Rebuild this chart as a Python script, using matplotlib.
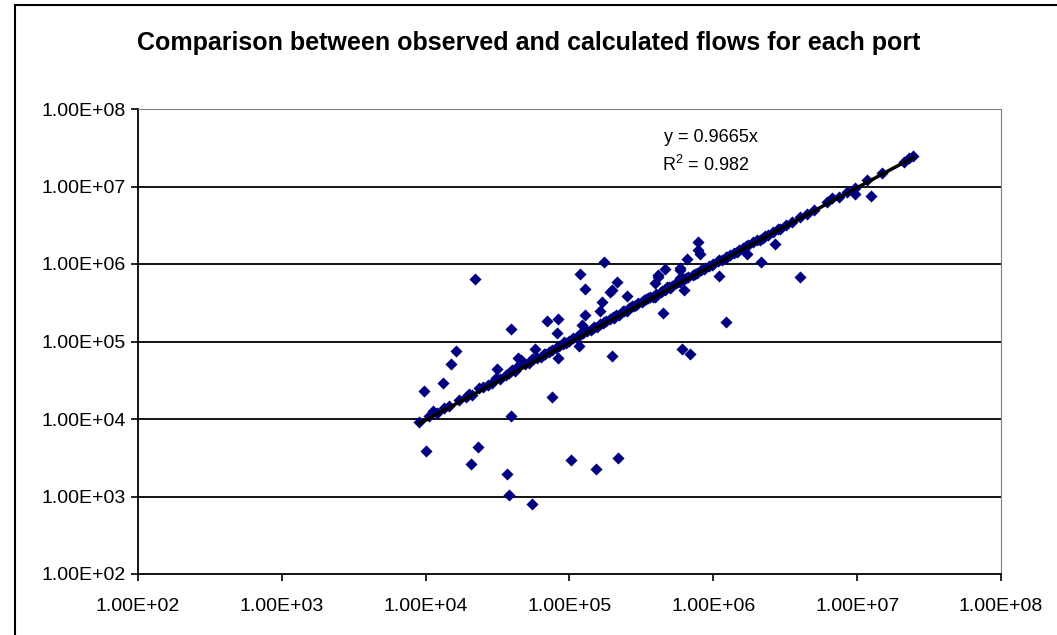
import numpy as np
import matplotlib
matplotlib.use('Agg')
from matplotlib import pyplot as plt
from matplotlib.ticker import FuncFormatter, FixedLocator
from matplotlib.patches import Rectangle

plt.rcParams['font.family'] = ['Liberation Sans', 'DejaVu Sans']
plt.rcParams['mathtext.fontset'] = 'custom'
plt.rcParams['mathtext.rm'] = 'Liberation Sans'

title = 'Comparison between observed and calculated flows for each port'
slope = 0.9665
r2 = 0.982

# points lying close to the fitted line
x_line = [9.0e3, 1.05e4, 1.12e4, 1.2e4, 1.35e4, 1.45e4, 1.7e4, 1.9e4, 2.0e4, 2.1e4,
          2.35e4, 2.5e4, 2.7e4, 2.9e4, 3.1e4, 3.3e4, 3.6e4, 3.8e4, 4.0e4, 4.2e4,
          4.5e4, 4.6e4, 4.9e4, 5.2e4, 5.5e4, 5.9e4, 6.3e4, 6.8e4, 7.2e4, 7.6e4,
          8.0e4, 8.5e4, 9.0e4, 9.5e4, 1.0e5, 1.06e5, 1.12e5, 1.18e5, 1.25e5, 1.32e5,
          1.4e5, 1.48e5, 1.55e5, 1.62e5, 1.7e5, 1.8e5, 1.9e5, 2.0e5, 2.1e5, 2.2e5,
          2.35e5, 2.5e5, 2.6e5, 2.8e5, 3.0e5, 3.2e5, 3.4e5, 3.6e5, 3.8e5, 4.0e5,
          4.3e5, 4.6e5, 4.9e5, 5.2e5, 5.5e5, 5.9e5, 6.3e5, 6.7e5, 7.2e5, 7.7e5,
          8.2e5, 8.8e5, 9.4e5, 1.0e6, 1.07e6, 1.15e6, 1.22e6, 1.3e6, 1.4e6, 1.5e6,
          1.62e6, 1.75e6, 1.9e6, 2.0e6, 2.2e6, 2.4e6, 2.6e6, 2.9e6, 3.2e6, 3.5e6,
          4.0e6, 4.5e6, 5.0e6, 6.2e6, 6.7e6, 7.5e6, 8.5e6, 9.6e6, 1.17e7, 1.5e7,
          2.1e7, 2.3e7, 2.45e7,
          1.15e5, 1.45e5, 1.75e5, 2.05e5, 2.4e5, 2.9e5, 3.3e5, 3.9e5, 4.4e5, 5.0e5,
          5.7e5, 6.5e5, 7.5e5, 8.6e5, 9.8e5, 1.1e6, 1.25e6, 1.45e6, 1.7e6, 2.1e6,
          4.4e4, 5.6e4, 6.6e4, 9.2e4, 2.7e5, 3.5e5, 4.8e5, 6.1e5, 2.3e6, 2.8e6]
y_line = [9.1e3, 1.1e4, 1.25e4, 1.18e4, 1.4e4, 1.45e4, 1.75e4, 1.95e4, 2.1e4, 2.05e4,
          2.5e4, 2.55e4, 2.75e4, 2.95e4, 3.4e4, 3.3e4, 3.7e4, 3.9e4, 4.3e4, 4.2e4,
          5.0e4, 5.7e4, 5.2e4, 5.3e4, 5.9e4, 6.1e4, 6.4e4, 7.0e4, 7.4e4, 7.8e4,
          8.3e4, 8.7e4, 9.4e4, 9.6e4, 1.03e5, 1.1e5, 1.12e5, 1.24e5, 1.27e5, 1.36e5,
          1.42e5, 1.55e5, 1.52e5, 1.68e5, 1.72e5, 1.85e5, 1.95e5, 2.05e5, 2.2e5, 2.2e5,
          2.45e5, 2.5e5, 2.7e5, 2.85e5, 3.1e5, 3.2e5, 3.5e5, 3.7e5, 3.75e5, 4.1e5,
          4.4e5, 4.6e5, 5.1e5, 5.2e5, 5.7e5, 5.9e5, 6.4e5, 6.8e5, 7.3e5, 7.6e5,
          8.3e5, 8.8e5, 9.5e5, 1.01e6, 1.08e6, 1.13e6, 1.24e6, 1.31e6, 1.38e6, 1.5e6,
          1.6e6, 1.75e6, 1.95e6, 2.05e6, 2.15e6, 2.35e6, 2.6e6, 2.8e6, 3.2e6, 3.5e6,
          4.0e6, 4.4e6, 5.0e6, 6.3e6, 7.1e6, 7.4e6, 8.4e6, 9.6e6, 1.22e7, 1.5e7,
          2.05e7, 2.3e7, 2.45e7,
          1.18e5, 1.5e5, 1.8e5, 2.0e5, 2.5e5, 3.0e5, 3.4e5, 3.8e5, 4.5e5, 4.9e5,
          5.8e5, 6.6e5, 7.4e5, 8.7e5, 9.6e5, 1.12e6, 1.22e6, 1.43e6, 1.72e6, 2.05e6,
          4.8e4, 6.0e4, 6.9e4, 9.8e4, 2.9e5, 3.6e5, 5.0e5, 6.5e5, 2.3e6, 2.8e6]

# scattered points away from the line
x_out = [2.2e4, 3.93e4, 1.63e4, 1.5e4, 1.32e4, 9.8e3, 3.14e4, 4.4e4, 3.93e4,
         1.74e5, 1.19e5, 1.28e5, 2.14e5, 1.98e5, 2.5e5, 7.0e4, 8.3e4, 8.2e4, 1.28e5,
         1.69e5, 1.63e5, 5.8e4, 8.3e4, 1.17e5, 1.98e5, 7.6e4, 1.22e5, 1.9e5,
         7.8e5, 7.8e5, 8.1e5, 6.6e5, 4.6e5, 4.1e5, 3.9e5, 5.9e5, 5.9e5, 1.1e6,
         6.3e5, 4.5e5, 1.23e6, 6.1e5, 6.9e5, 1.72e6, 2.14e6, 2.7e6, 4.0e6,
         9.7e6, 1.25e7, 4.1e5, 5.9e5,
         1.0e4, 2.31e4, 2.07e4, 3.68e4, 3.8e4, 5.5e4, 1.03e5, 1.53e5, 2.18e5]
y_out = [6.4e5, 1.45e5, 7.5e4, 5.1e4, 2.9e4, 2.3e4, 4.4e4, 6.1e4, 1.09e4,
         1.06e6, 7.4e5, 4.75e5, 5.9e5, 4.6e5, 3.9e5, 1.84e5, 1.95e5, 1.29e5, 2.2e5,
         3.24e5, 2.5e5, 8.0e4, 6.1e4, 8.7e4, 6.5e4, 1.92e4, 1.63e5, 4.35e5,
         1.92e6, 1.51e6, 1.35e6, 1.16e6, 8.6e5, 7.2e5, 5.7e5, 8.3e5, 6.6e5, 7.0e5,
         4.6e5, 2.3e5, 1.79e5, 8.0e4, 6.9e4, 1.35e6, 1.06e6, 1.81e6, 6.8e5,
         8.0e6, 7.5e6, 6.8e5, 8.9e5,
         3.87e3, 4.36e3, 2.6e3, 1.95e3, 1.04e3, 8.0e2, 2.96e3, 2.27e3, 3.14e3]

x_all = np.array(x_line + x_out)
y_all = np.array(y_line + y_out)

fig = plt.figure(figsize=(10.57, 6.35), dpi=100)
ax = fig.add_axes([138 / 1057, 61 / 635, 863 / 1057, 465 / 635])

ax.set_xscale('log')
ax.set_yscale('log')
ax.set_xlim(1e2, 1e8)
ax.set_ylim(1e2, 1e8)

decades = [1e2, 1e3, 1e4, 1e5, 1e6, 1e7, 1e8]
ax.xaxis.set_major_locator(FixedLocator(decades))
ax.yaxis.set_major_locator(FixedLocator(decades))
ax.minorticks_off()
fmt = FuncFormatter(lambda v, p: '%.2E' % v)
ax.xaxis.set_major_formatter(fmt)
ax.yaxis.set_major_formatter(fmt)
ax.tick_params(direction='out', length=5, width=1.2, labelsize=14, color='black')
ax.tick_params(axis='x', pad=12)
ax.tick_params(axis='y', pad=4)

for d in decades[1:-1]:
    ax.axhline(d, color='black', lw=1.3, zorder=1)
ax.spines['top'].set_color('#808080')
ax.spines['right'].set_color('#808080')
ax.spines['left'].set_linewidth(1.3)
ax.spines['bottom'].set_linewidth(1.3)

ax.scatter(x_all, y_all, marker='D', s=38, color='#000080', linewidths=0, zorder=3)

xs = np.array([x_all.min(), x_all.max()])
ax.plot(xs, slope * xs, color='black', lw=2.5, zorder=4)

fig.text(0.5, 1 - 43 / 635, title, ha='center', va='center',
         fontsize=18, fontweight='bold')
fig.text(711 / 1057, 1 - 137 / 635, 'y = %.4fx' % slope, ha='center', va='center', fontsize=13)
fig.text(706 / 1057, 1 - 165 / 635, r'R$^2$ = %.3f' % r2, ha='center', va='center', fontsize=13)

fig.patches.append(Rectangle((15 / 1057, -0.1), 1.1, 1.1 - 5 / 635,
                             transform=fig.transFigure, fill=False,
                             edgecolor='black', lw=1.5))

fig.savefig('out.png', dpi=100)
